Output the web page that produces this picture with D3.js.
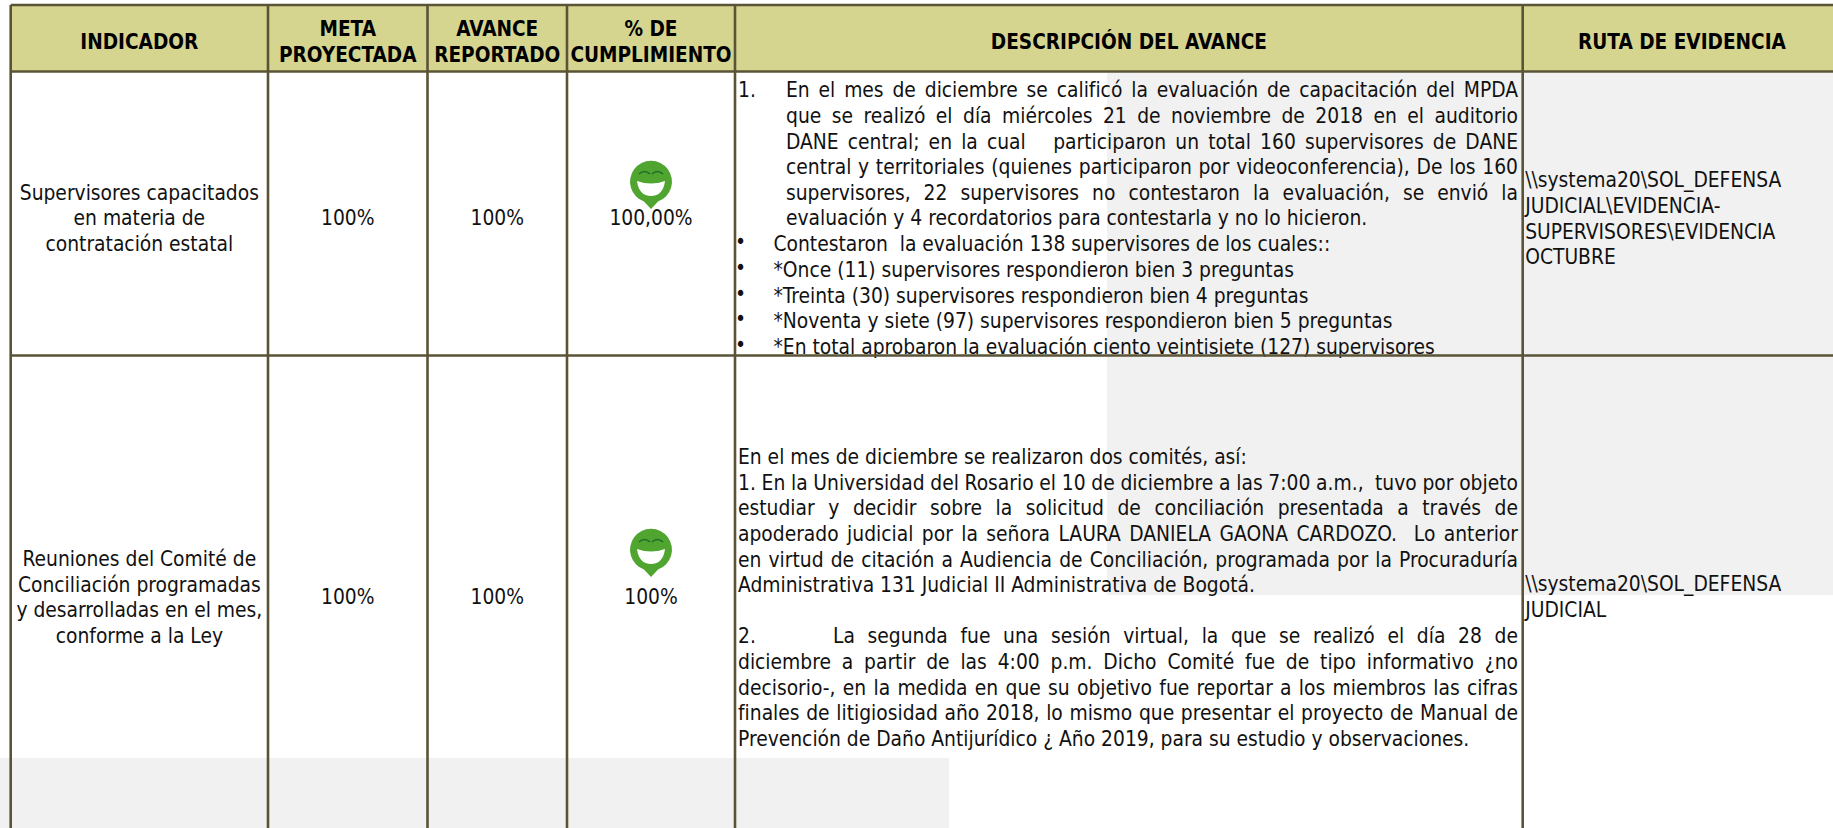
<!DOCTYPE html>
<html lang="es">
<head>
<meta charset="utf-8">
<title>Indicadores</title>
<script src="https://cdn.jsdelivr.net/npm/d3@7"></script>
<style>
  html, body { margin: 0; padding: 0; background: #fff; overflow: hidden; }
  svg { display: block; }
  text { font-family: "DejaVu Sans", sans-serif; font-stretch: condensed; font-size: 20.8px; fill: #111; white-space: pre; }
  .head { font-weight: bold; font-size: 20.6px; fill: #000; }
  .grid line { stroke: #5a5335; stroke-width: 2.6px; }
</style>
</head>
<body>
<svg width="1833" height="828"></svg>
<script>
var columns = ["indicador", "meta", "avance", "cumplimiento", "descripcion", "ruta"];
var headers = [["INDICADOR"], ["META", "PROYECTADA"], ["AVANCE", "REPORTADO"], ["% DE", "CUMPLIMIENTO"], ["DESCRIPCIÓN DEL AVANCE"], ["RUTA DE EVIDENCIA"]];

var indicadores = [
  ["Supervisores capacitados", "en materia de", "contratación estatal"],
  ["Reuniones del Comité de", "Conciliación programadas", "y desarrolladas en el mes,", "conforme a la Ley"]
];
var metas = ["100%", "100%"];
var avances = ["100%", "100%"];
var cumplimientos = ["100,00%", "100%"];
var rutas = [
  ["\\\\systema20\\SOL_DEFENSA", "JUDICIAL\\EVIDENCIA-", "SUPERVISORES\\EVIDENCIA", "OCTUBRE"],
  ["\\\\systema20\\SOL_DEFENSA", "JUDICIAL"]
];

var descripcion1 = [
  "En el mes de diciembre se calificó la evaluación de capacitación del MPDA",
  "que se realizó el día miércoles 21 de noviembre de 2018 en el auditorio",
  "DANE central; en la cual   participaron un total 160 supervisores de DANE",
  "central y territoriales (quienes participaron por videoconferencia), De los 160",
  "supervisores, 22 supervisores no contestaron la evaluación, se envió la",
  "evaluación y 4 recordatorios para contestarla y no lo hicieron."
];
var vinetas1 = [
  "Contestaron  la evaluación 138 supervisores de los cuales::",
  "*Once (11) supervisores respondieron bien 3 preguntas",
  "*Treinta (30) supervisores respondieron bien 4 preguntas",
  "*Noventa y siete (97) supervisores respondieron bien 5 preguntas",
  "*En total aprobaron la evaluación ciento veintisiete (127) supervisores"
];
var descripcion2a = [
  "En el mes de diciembre se realizaron dos comités, así:",
  "1. En la Universidad del Rosario el 10 de diciembre a las 7:00 a.m.,  tuvo por objeto",
  "estudiar y decidir sobre la solicitud de conciliación presentada a través de",
  "apoderado judicial por la señora LAURA DANIELA GAONA CARDOZO.  Lo anterior",
  "en virtud de citación a Audiencia de Conciliación, programada por la Procuraduría",
  "Administrativa 131 Judicial II Administrativa de Bogotá."
];
var descripcion2b = [
  "La segunda fue una sesión virtual, la que se realizó el día 28 de",
  "diciembre a partir de las 4:00 p.m. Dicho Comité fue de tipo informativo ¿no",
  "decisorio-, en la medida en que su objetivo fue reportar a los miembros las cifras",
  "finales de litigiosidad año 2018, lo mismo que presentar el proyecto de Manual de",
  "Prevención de Daño Antijurídico ¿ Año 2019, para su estudio y observaciones."
];

var svg = d3.select("svg"), width = +svg.attr("width"), height = +svg.attr("height");

// column borders, the last one is off the page
var edges = [10.7, 268, 427.5, 567, 735, 1522.7, 1841];
var left = d3.scaleOrdinal().domain(columns).range(edges.slice(0, 6));
var right = d3.scaleOrdinal().domain(columns).range(edges.slice(1));
function center(c) { return (left(c) + right(c)) / 2; }

var lineH = 25.6;
var rowLines = [5, 71.5, 355.5];
var rowMid = [218, 597];
var smileyY = [182, 550];

// grey patches that the source screenshot has behind the table
var patches = [
  {x0: 1107, x1: width, y0: 73, y1: 595},
  {x0: 0, x1: 949, y0: 758, y1: height}
];
svg.selectAll("rect.patch").data(patches).enter().append("rect")
    .attr("class", "patch")
    .attr("x", function(d) { return d.x0; })
    .attr("y", function(d) { return d.y0; })
    .attr("width", function(d) { return d.x1 - d.x0; })
    .attr("height", function(d) { return d.y1 - d.y0; })
    .attr("fill", "#f1f1f1");

svg.append("rect")
    .attr("x", edges[0]).attr("y", rowLines[0])
    .attr("width", width - edges[0]).attr("height", rowLines[1] - rowLines[0])
    .attr("fill", "#d6d590");

// draws lines of text centred on the column, yc being the middle of the block
function block(lines, x, yc, cls) {
  var y0 = yc - (lines.length - 1) * lineH / 2;
  svg.append("g").selectAll("text").data(lines).enter().append("text")
      .attr("class", cls || null)
      .attr("x", x)
      .attr("y", function(d, i) { return y0 + i * lineH; })
      .attr("dy", "0.36em")
      .attr("text-anchor", "middle")
      .text(function(d) { return d; });
}

// left aligned lines, stretched to xr with word spacing if justify is set
function para(lines, x, yFirst, xr, justify) {
  svg.append("g").selectAll("text").data(lines).enter().append("text")
      .attr("x", x)
      .attr("y", function(d, i) { return yFirst + i * lineH; })
      .attr("dy", "0.36em")
      .text(function(d) { return d; })
      .each(function(d, i) {
        if (!xr || !justify(i)) return;
        var gaps = d.split(" ").length - 1;
        var extra = (xr - x - this.getComputedTextLength()) / gaps;
        d3.select(this).style("word-spacing", extra + "px");
      });
}

columns.forEach(function(c, i) {
  var x = c == "ruta" ? 1682 : center(c);
  block(headers[i], x, 41.5, "head");
});

[0, 1].forEach(function(r) {
  block(indicadores[r], center("indicador"), rowMid[r]);
  block([metas[r]], center("meta"), rowMid[r]);
  block([avances[r]], center("avance"), rowMid[r]);
  block([cumplimientos[r]], center("cumplimiento"), rowMid[r]);
  smiley(center("cumplimiento"), smileyY[r]);
});

var descX = left("descripcion") + 3, descR = 1518, rutaX = left("ruta") + 2.5;

para(["1."], descX, 90);
para(descripcion1, 786, 90, descR, function(i) { return i < 5; });
para(vinetas1.map(function() { return "•"; }), descX - 3, 242);
para(vinetas1, 773.5, 244);

para(descripcion2a, descX, 456.7, descR, function(i) { return i > 0 && i < 5; });
para(["2."], descX, 636);
para(descripcion2b.slice(0, 1), 833, 636, descR, function() { return true; });
para(descripcion2b.slice(1), descX, 661.6, descR, function(i) { return i < 3; });

para(rutas[0], rutaX, 180);
para(rutas[1], rutaX, 584);

var grid = svg.append("g").attr("class", "grid");
grid.selectAll("line.h").data(rowLines).enter().append("line")
    .attr("class", "h")
    .attr("x1", edges[0]).attr("x2", width)
    .attr("y1", function(d) { return d; }).attr("y2", function(d) { return d; });
grid.selectAll("line.v").data(edges.slice(0, 6)).enter().append("line")
    .attr("class", "v")
    .attr("x1", function(d) { return d; }).attr("x2", function(d) { return d; })
    .attr("y1", rowLines[0]).attr("y2", height);

// green laughing pin, (cx, cy) is the middle of the head
function smiley(cx, cy) {
  var g = svg.append("g").attr("transform", "translate(" + cx + "," + cy + ")");
  g.append("path").attr("fill", "#4fa52f")
      .attr("d", "M0,27 L-7,19.5 A21,21 0 1 1 7,19.5 Z");
  g.append("path").attr("fill", "#fff")
      .attr("d", "M-14,-1 Q0,4 14,-1 Q12,14 0,14 Q-12,14 -14,-1 Z");
  g.selectAll("path.eye").data([-1, 1]).enter().append("path")
      .attr("class", "eye")
      .attr("fill", "none").attr("stroke", "#1d6b2a").attr("stroke-width", 1.5)
      .attr("d", function(d) { return "M" + (d * 6.5 - 5.5) + ",-8 Q" + (d * 6.5) + ",-13 " + (d * 6.5 + 5.5) + ",-8"; });
}
</script>
</body>
</html>
